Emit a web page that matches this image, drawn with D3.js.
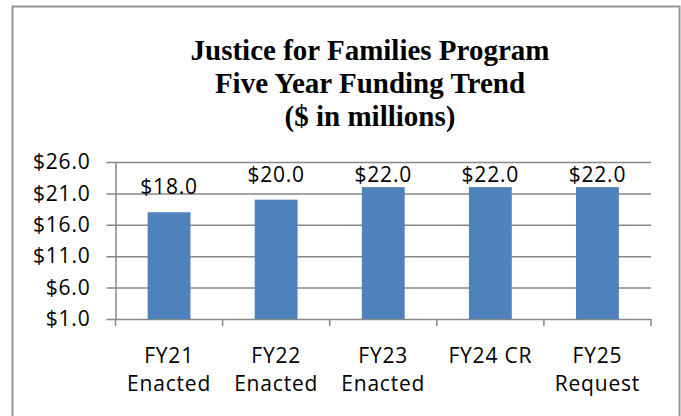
<!DOCTYPE html>
<html>
<head>
<meta charset="utf-8">
<script src="https://cdn.jsdelivr.net/npm/d3@7"></script>
<style>
    html, body { margin: 0; padding: 0; background: #fff; }
    svg { display: block; }
    .lbl { font-family: 'Open Sans', sans-serif; font-size: 21px; letter-spacing: 0.8px; fill: #000; }
    .title { font-family: 'Liberation Serif', 'Times New Roman', serif; font-weight: bold; font-size: 29px; fill: #000; }
    .grid line, .grid path { stroke: #878787; stroke-width: 1.5px; }
</style>
</head>
<body>
<svg id="chart"></svg>
<script>
const categories = ['FY21 Enacted', 'FY22 Enacted', 'FY23 Enacted', 'FY24 CR', 'FY25 Request'];
const categoryLines = [['FY21', 'Enacted'], ['FY22', 'Enacted'], ['FY23', 'Enacted'], ['FY24 CR'], ['FY25', 'Request']];
const values = [18.0, 20.0, 22.0, 22.0, 22.0];
const yTicks = [1, 6, 11, 16, 21, 26];
const titleLines = ['Justice for Families Program', 'Five Year Funding Trend', '($ in millions)'];

const width = 681;
const height = 416;
const plot = { left: 115.5, right: 651, top: 162, bottom: 319 };

const svg = d3.select('#chart').attr('width', width).attr('height', height);

// Chart border (bottom edge falls outside the picture).
svg.append('rect')
    .attr('x', 12.5)
    .attr('y', 6.5)
    .attr('width', 667)
    .attr('height', 430)
    .attr('fill', '#fff')
    .attr('stroke', '#969696')
    .attr('stroke-width', 2);

// Title.
svg.append('text')
    .attr('class', 'title')
    .attr('text-anchor', 'middle')
    .attr('transform', 'translate(370, 60)')
    .selectAll('tspan')
    .data(titleLines)
    .enter()
    .append('tspan')
    .attr('x', 0)
    .attr('dy', (d, i) => (i === 0 ? 0 : 33))
    .text(d => d);

// Scales.
const x = d3
    .scaleBand()
    .domain(categories)
    .range([plot.left, plot.right])
    .paddingInner(0.6)
    .paddingOuter(0.3);

const y = d3
    .scaleLinear()
    .domain([yTicks[0], yTicks[yTicks.length - 1]])
    .range([plot.bottom, plot.top]);

// Gridlines + y axis.
const yAxis = svg.append('g')
    .attr('class', 'grid')
    .attr('transform', `translate(${plot.left}, 0)`)
    .call(
        d3.axisLeft(y)
            .tickValues(yTicks)
            .tickSizeInner(-(plot.right - plot.left))
            .tickSizeOuter(0)
            .tickPadding(25)
            .tickFormat(d => '$' + d.toFixed(1))
    );
yAxis.selectAll('line').attr('x1', -9);
yAxis.selectAll('text').attr('class', 'lbl').attr('fill', null);

// x-axis tick marks at category boundaries.
const boundaries = categories.map(c => x(c) - x.step() * x.paddingOuter()).concat([plot.right]);
svg.append('g')
    .attr('class', 'grid')
    .selectAll('line')
    .data(boundaries)
    .enter()
    .append('line')
    .attr('x1', d => d)
    .attr('x2', d => d)
    .attr('y1', plot.bottom)
    .attr('y2', plot.bottom + 7);

// Bars.
svg.append('g')
    .selectAll('rect')
    .data(values)
    .enter()
    .append('rect')
    .attr('x', (d, i) => x(categories[i]))
    .attr('y', d => y(d))
    .attr('width', x.bandwidth())
    .attr('height', d => y(yTicks[0]) - y(d))
    .attr('fill', '#4F81BD');

// Value labels, kept inside the plot area.
svg.append('g')
    .selectAll('text')
    .data(values)
    .enter()
    .append('text')
    .attr('class', 'lbl')
    .attr('text-anchor', 'middle')
    .attr('x', (d, i) => x(categories[i]) + x.bandwidth() / 2)
    .attr('y', d => Math.max(y(d) - 18.5, plot.top + 20))
    .text(d => '$' + d.toFixed(1));

// Category labels.
svg.append('g')
    .selectAll('text')
    .data(categories)
    .enter()
    .append('text')
    .attr('class', 'lbl')
    .attr('text-anchor', 'middle')
    .attr('transform', c => `translate(${x(c) + x.bandwidth() / 2}, 363)`)
    .selectAll('tspan')
    .data((c, i) => categoryLines[i])
    .enter()
    .append('tspan')
    .attr('x', 0)
    .attr('dy', (d, i) => (i === 0 ? 0 : 28))
    .text(d => d);
</script>
</body>
</html>
